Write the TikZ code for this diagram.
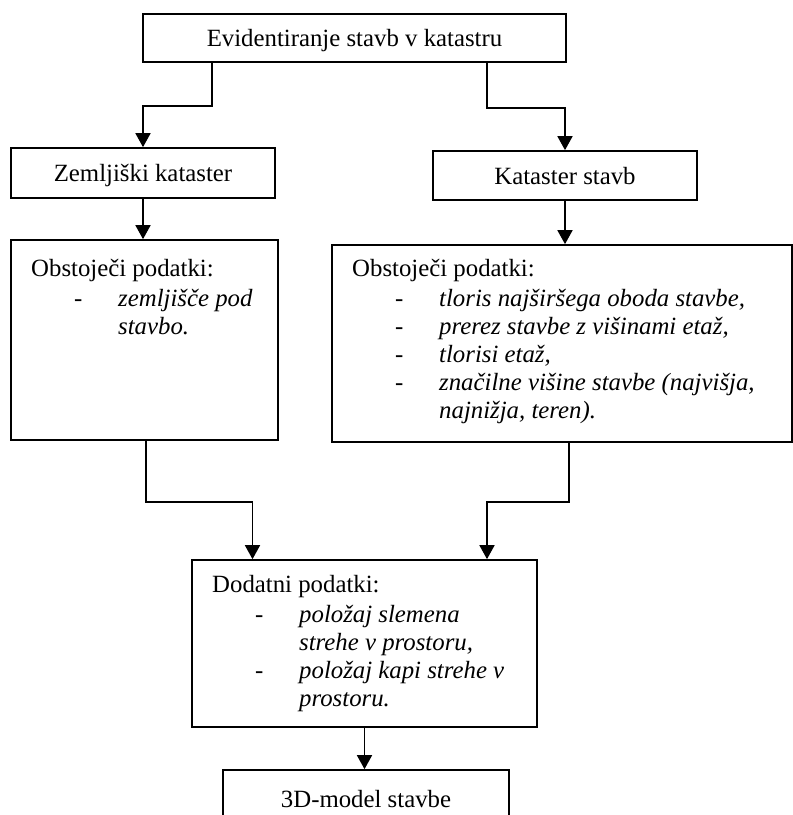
\documentclass[tikz,border=0pt]{standalone}
\usepackage{fontspec}
\setmainfont{Liberation Serif}
\usetikzlibrary{arrows.meta,positioning}
\tikzset{>={Triangle[length=14pt,width=15pt]}}
\tikzset{box/.style={draw, line width=1.7pt, inner sep=0pt, text depth=0pt,
    font=\fontsize{24.8}{28}\selectfont}}
\tikzset{txt/.style={inner sep=0pt, anchor=base west,
    font=\fontsize{24.8}{28}\selectfont}}
\tikzset{arr/.style={->, line width=1.7pt}}
\newcommand{\dashitem}[1]{\makebox[44pt][l]{-}\textit{#1}}
\newcommand{\contitem}[1]{\hspace*{44pt}\textit{#1}}

\begin{document}
\begin{tikzpicture}[x=1pt,y=-1pt]
  \useasboundingbox (0,0) rectangle (793,815);
  % boxes
  \node[box, minimum width=423pt, minimum height=48pt] (evid) at (354.5,38)
  {Evidentiranje stavb v katastru};
  \node[box, minimum width=264pt, minimum height=50pt] (zemlj) at (143,173)
  {Zemljiški kataster};
  \node[box, minimum width=264pt, minimum height=49pt] (katst) at (565,175.5)
  {Kataster stavb};
  \node[box, minimum width=267pt, minimum height=200pt] (obstL) at (144.5,340) {};
  \node[box, minimum width=460pt, minimum height=197pt] (obstR) at (562,343.5) {};
  \node[box, minimum width=345pt, minimum height=167pt] (dod) at (364.5,643.5) {};
  \node[box, minimum width=286pt, minimum height=57pt] (model) at (366,798.5)
  {3D-model stavbe};
  % box texts
  \node[txt] (obstLtxt) at (31,276) {\begin{tabular}[t]{@{}p{43pt}@{}l@{}}
      \multicolumn{2}{@{}l@{}}{Obstoječi podatki:}\\[2pt]
      & \dashitem{zemljišče pod}\\
      & \contitem{stavbo.}
    \end{tabular}};
  \node[txt] (obstRtxt) at (352,276) {\begin{tabular}[t]{@{}p{43pt}@{}l@{}}
      \multicolumn{2}{@{}l@{}}{Obstoječi podatki:}\\[2pt]
      & \dashitem{tloris najširšega oboda stavbe,}\\
      & \dashitem{prerez stavbe z višinami etaž,}\\
      & \dashitem{tlorisi etaž,}\\
      & \dashitem{značilne višine stavbe (najvišja,}\\
      & \contitem{najnižja, teren).}
    \end{tabular}};
  \node[txt] (dodtxt) at (212,592) {\begin{tabular}[t]{@{}p{43pt}@{}l@{}}
      \multicolumn{2}{@{}l@{}}{Dodatni podatki:}\\[2pt]
      & \dashitem{položaj slemena}\\
      & \contitem{strehe v prostoru,}\\
      & \dashitem{položaj kapi strehe v}\\
      & \contitem{prostoru.}
    \end{tabular}};
  % connectors
  \draw[arr] ([xshift=-142.5pt]evid.south) -- ++(0,43) -| (zemlj.north);
  \draw[arr] ([xshift=132.5pt]evid.south) -- ++(0,45) -| (katst.north);
  \draw[arr] (zemlj.south) -- (zemlj.south |- obstL.north);
  \draw[arr] (katst.south) -- (katst.south |- obstR.north);
  \draw[arr] ([xshift=1.5pt]obstL.south) -- ++(0,61) -| ([xshift=-112pt]dod.north);
  \draw[arr] ([xshift=7pt]obstR.south) -- ++(0,59) -| ([xshift=122.5pt]dod.north);
  \draw[arr] (dod.south) -- (dod.south |- model.north);
\end{tikzpicture}
\end{document}
